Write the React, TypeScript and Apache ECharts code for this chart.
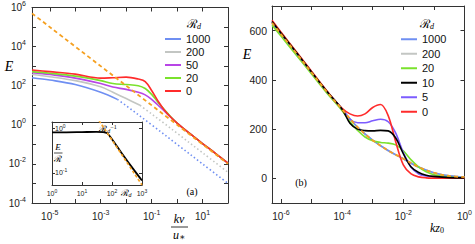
import React, { useEffect, useRef } from "react";
import * as echarts from "echarts";

// ---------- Panel (a) data: E vs k nu / u* ----------
const aK = [2e-6, 1e-5, 1e-4, 1e-3, 3e-3, 1e-2, 3e-2, 5.6e-2, 0.1, 0.18, 0.32, 0.56, 1, 3.2, 10, 32, 100];
const aRed = [630, 525, 390, 245, 257, 275, 219, 162, 57, 16, 5.6, 2.5, 1.23, 0.35, 0.11, 0.035, 0.011];
const aGreen = [525, 436, 309, 182, 129, 115, 100, 72, 36, 14, 5.9, 2.6, 1.23, 0.35, 0.11, 0.035, 0.011];
const aPurple = [468, 372, 245, 129, 85, 65, 46, 34, 20, 10, 5.0, 2.45, 1.23, 0.35, 0.11, 0.035, 0.011];
const aGrayK = [2e-6, 1e-5, 1e-4, 1e-3, 3e-3, 1e-2, 3.5e-2];
const aGray = [372, 288, 182, 88, 46, 22, 10];
const aGrayTailK = [3.5e-2, 0.1, 0.32, 1, 10, 100];
const aGrayTail = [10, 3.6, 1.15, 0.37, 0.037, 0.0037];
const aBlueK = [2e-6, 1e-5, 1e-4, 1e-3, 4.5e-3];
const aBlue = [257, 195, 115, 46, 20];
const aBlueTailK = [4.5e-3, 1e-2, 0.1, 1, 10, 100];
const aBlueTail = [20, 9.5, 1.0, 0.1, 0.01, 0.001];
const aRefK = [2e-6, 100];
const aRef = [5e5, 0.01];

// inset: E/R vs R_d
const inR = [1, 3, 10, 30, 50, 70, 100, 200, 500, 1000];
const inE = [0.8, 0.8, 0.81, 0.82, 0.81, 0.76, 0.56, 0.29, 0.125, 0.068];
const inRefR = [30, 1000];
const inRef = [1.8, 0.054];

// ---------- Panel (b) data: E vs k z0 ----------
const bK = [5.1e-7, 1e-6, 3.2e-6, 1e-5, 3.2e-5, 1e-4, 3.2e-4, 1e-3, 3.2e-3, 1e-2, 3.2e-2, 0.1, 0.32, 1];
const bRef = [632, 586, 508, 430, 351, 280, 208, 155, 113, 80, 46, 23, 10, 5];
const bBlue = [632, 586, 508, 430, 351, 280, 208, 155, 113, 80, 46, 23, 10, 5];
const bGray = [628, 583, 505, 428, 349, 279, 207, 154, 112, 79, 45, 22, 10, 5];
const bK2 = [5.1e-7, 1e-6, 3.2e-6, 1e-5, 3.2e-5, 1e-4, 1.8e-4, 3.2e-4, 5.6e-4, 1e-3, 1.8e-3, 3.2e-3, 5.6e-3, 1e-2, 1.8e-2, 3.2e-2, 5.6e-2, 0.1, 0.32, 1];
const bRed = [642, 594, 514, 435, 355, 284, 262, 253, 262, 288, 300, 255, 150, 55, 18, 6, 2, 1, 0.5, 0.5];
const bViolet = [636, 589, 510, 432, 353, 282, 240, 226, 226, 234, 240, 230, 185, 105, 45, 18, 10, 6, 2, 1];
const bBlack = [637, 590, 511, 432, 353, 281, 224, 200, 194, 193, 195, 193, 165, 100, 46, 24, 13, 8, 3, 2];
const bGreen = [622, 578, 500, 424, 346, 275, 230, 195, 168, 153, 146, 143, 136, 112, 75, 46, 27, 15, 5, 2];

const legendA = ["1000", "200", "50", "20", "0"];
const legendB = ["1000", "200", "20", "10", "5", "0"];

const C = {
  blue: "#6f8ff2",
  gray: "#c3c6c3",
  purple: "#b845e6",
  green: "#7ae22c",
  red: "#ff2b2b",
  orange: "#f5a021",
  black: "#000000",
  violet: "#7c5cff",
};

const F = "Liberation Sans, Arial, sans-serif";
const SERIF = "Liberation Serif, DejaVu Serif, serif";

const zip = (xs: number[], ys: number[]) => xs.map((x, i) => [x, ys[i]]);

// step: label every `step` decades; offset: exponent remainder to keep
const supLabel = (v: number, step: number, offset = 0) => {
  const e = Math.log10(v);
  const n = Math.round(e);
  if (Math.abs(e - n) > 1e-6) return "";
  if ((((n - offset) % step) + step) % step !== 0) return "";
  return `{b|10}{s|${n}}`;
};

const supRich = (size: number, sup: number, raise: number) => ({
  b: { fontSize: size, fontFamily: F, color: "#222" },
  s: { fontSize: sup, fontFamily: F, color: "#222", padding: [0, 0, raise, 0] },
});

const line = (
  name: string,
  data: number[][],
  color: string,
  axis: number,
  extra: any = {}
) => ({
  name,
  type: "line",
  xAxisIndex: axis,
  yAxisIndex: axis,
  data,
  symbol: "none",
  smooth: 0.35,
  clip: true,
  itemStyle: { color },
  lineStyle: { color, width: 1.6, ...(extra.lineStyle || {}) },
  z: extra.z ?? 2,
});

const axBase = (len: number) => ({
  axisLine: { show: true, onZero: false, lineStyle: { color: "#333", width: 1 } },
  axisTick: { show: true, inside: true, length: len, lineStyle: { color: "#333", width: 1 } },
  splitLine: { show: false },
  minorTick: { show: false },
});

const noLabel = { show: false };

const option: any = {
  animation: false,
  backgroundColor: "#fff",
  grid: [
    { left: 32, top: 5, width: 196, height: 198 },
    { left: 272, top: 6, width: 195, height: 197 },
    { left: 52, top: 122, width: 90, height: 63 },
  ],
  xAxis: [
    {
      gridIndex: 0, type: "log", min: 2e-6, max: 100, splitNumber: 8, position: "bottom",
      ...axBase(4),
      axisLabel: { formatter: (v: number) => supLabel(v, 2, 1), rich: supRich(10, 7, 8), margin: 6 },
    },
    { gridIndex: 0, type: "log", min: 2e-6, max: 100, splitNumber: 8, position: "top", ...axBase(4), axisLabel: noLabel },
    {
      gridIndex: 1, type: "log", min: 5.1e-7, max: 1, splitNumber: 6, position: "bottom",
      ...axBase(4),
      axisLabel: { formatter: (v: number) => supLabel(v, 2), rich: supRich(10, 7, 8), margin: 6 },
    },
    { gridIndex: 1, type: "log", min: 5.1e-7, max: 1, splitNumber: 6, position: "top", ...axBase(4), axisLabel: noLabel },
    {
      gridIndex: 2, type: "log", min: 1, max: 1000, splitNumber: 3, position: "bottom",
      ...axBase(3),
      axisLabel: { formatter: (v: number) => supLabel(v, 1), rich: supRich(7, 5, 5), margin: 3 },
    },
    { gridIndex: 2, type: "log", min: 1, max: 1000, splitNumber: 3, position: "top", ...axBase(3), axisLabel: noLabel },
  ],
  yAxis: [
    {
      gridIndex: 0, type: "log", min: 1e-4, max: 1e6, splitNumber: 10, position: "left",
      ...axBase(4),
      axisLabel: { formatter: (v: number) => supLabel(v, 2), rich: supRich(10, 7, 8), margin: 6 },
    },
    { gridIndex: 0, type: "log", min: 1e-4, max: 1e6, splitNumber: 10, position: "right", ...axBase(4), axisLabel: noLabel },
    {
      gridIndex: 1, type: "value", min: -100, max: 700, splitNumber: 4, position: "left",
      ...axBase(4),
      axisLabel: {
        formatter: (v: number) => (v === -100 || v === 700 ? "" : String(v)),
        fontSize: 10.5, fontFamily: F, color: "#222", margin: 5,
      },
    },
    { gridIndex: 1, type: "value", min: -100, max: 700, splitNumber: 4, position: "right", ...axBase(4), axisLabel: noLabel },
    {
      gridIndex: 2, type: "log", min: 0.054, max: 1.36, splitNumber: 2, position: "left",
      ...axBase(3),
      axisLabel: { inside: true, formatter: (v: number) => supLabel(v, 1), rich: supRich(7, 5, 5), margin: 3 },
    },
    { gridIndex: 2, type: "log", min: 0.054, max: 1.36, splitNumber: 2, position: "right", ...axBase(3), axisLabel: noLabel },
  ],
  legend: [
    {
      data: legendA, orient: "vertical", left: 165, top: 32.5, icon: "rect", itemWidth: 16, itemHeight: 2,
      itemGap: 0, padding: 0, selectedMode: false,
      textStyle: { fontSize: 11, lineHeight: 13, fontFamily: F, color: "#111" },
    },
    {
      data: legendB, orient: "vertical", left: 401, top: 32, icon: "rect", itemWidth: 16, itemHeight: 2,
      itemGap: 0, padding: 0, selectedMode: false,
      textStyle: { fontSize: 11, lineHeight: 14.5, fontFamily: F, color: "#111" },
    },
  ],
  series: [
    // panel (a)
    line("1000", zip(aBlueK, aBlue), C.blue, 0),
    line("1000 tail", zip(aBlueTailK, aBlueTail), C.blue, 0, { lineStyle: { type: [1.5, 2.5] } }),
    line("200", zip(aGrayK, aGray), C.gray, 0),
    line("200 tail", zip(aGrayTailK, aGrayTail), C.gray, 0, { lineStyle: { type: [1.5, 2.5] } }),
    line("50", zip(aK, aPurple), C.purple, 0),
    line("20", zip(aK, aGreen), C.green, 0),
    line("0", zip(aK, aRed), C.red, 0),
    line("ref a", zip(aRefK, aRef), C.orange, 0, { lineStyle: { type: [4, 3], width: 1.8 }, z: 3 }),
    // inset
    line("inset", zip(inR, inE), C.black, 4, { lineStyle: { width: 1.8 } }),
    line("inset ref", zip(inRefR, inRef), C.orange, 4, { lineStyle: { type: [3, 2], width: 1.6 }, z: 3 }),
    // panel (b)
    line("200", zip(bK, bGray), C.gray, 2),
    line("1000", zip(bK, bBlue), C.blue, 2),
    line("20", zip(bK2, bGreen), C.green, 2),
    line("5", zip(bK2, bViolet), C.violet, 2),
    line("0", zip(bK2, bRed), C.red, 2),
    line("10", zip(bK2, bBlack), C.black, 2),
    line("ref b", zip(bK, bRef), C.orange, 2, { lineStyle: { type: [4, 3], width: 1.8 }, z: 3 }),
  ],
  graphic: [
    { type: "text", x: 9, y: 66, style: { text: "E", font: `italic 14px ${SERIF}`, fill: "#000", textAlign: "center", textVerticalAlign: "middle" } },
    { type: "text", x: 247, y: 54, style: { text: "E", font: `italic 14px ${SERIF}`, fill: "#000", textAlign: "center", textVerticalAlign: "middle" } },
    { type: "text", x: 179, y: 219, style: { text: "kν", font: `italic 12px ${SERIF}`, fill: "#000", textAlign: "center", textVerticalAlign: "middle" } },
    { type: "line", shape: { x1: 171, y1: 227, x2: 188, y2: 227 }, style: { stroke: "#000", lineWidth: 0.8 } },
    {
      type: "text", x: 179, y: 235,
      style: {
        text: "{i|u}{s|∗}", textAlign: "center", textVerticalAlign: "middle",
        rich: { i: { font: `italic 12px ${SERIF}`, fill: "#000" }, s: { font: `9px ${SERIF}`, fill: "#000", padding: [4, 0, 0, 0] } },
      },
    },
    {
      type: "text", x: 437, y: 228,
      style: {
        text: "{i|kz}{s|0}", textAlign: "center", textVerticalAlign: "middle",
        rich: { i: { font: `italic 12px ${SERIF}`, fill: "#000" }, s: { font: `8px ${SERIF}`, fill: "#000", padding: [5, 0, 0, 0] } },
      },
    },
    { type: "text", x: 192, y: 191, style: { text: "(a)", font: `10px ${SERIF}`, fill: "#000", textAlign: "center", textVerticalAlign: "middle" } },
    { type: "text", x: 301, y: 182, style: { text: "(b)", font: `10px ${SERIF}`, fill: "#000", textAlign: "center", textVerticalAlign: "middle" } },
    {
      type: "text", x: 194, y: 24,
      style: {
        text: "{r|ℛ}{d|d}", textAlign: "center", textVerticalAlign: "middle",
        rich: { r: { font: `12px DejaVu Serif, serif`, fill: "#000" }, d: { font: `italic 8px ${SERIF}`, fill: "#000", padding: [5, 0, 0, 0] } },
      },
    },
    {
      type: "text", x: 427, y: 24,
      style: {
        text: "{r|ℛ}{d|d}", textAlign: "center", textVerticalAlign: "middle",
        rich: { r: { font: `12px DejaVu Serif, serif`, fill: "#000" }, d: { font: `italic 8px ${SERIF}`, fill: "#000", padding: [5, 0, 0, 0] } },
      },
    },
    {
      type: "text", x: 108, y: 129,
      style: {
        text: "{r|ℛ}{d|d}{s|−1}", textAlign: "center", textVerticalAlign: "middle",
        rich: {
          r: { font: `9px DejaVu Serif, serif`, fill: "#000" },
          d: { font: `italic 6px ${SERIF}`, fill: "#000", padding: [4, 0, 0, 0] },
          s: { font: `6px ${SERIF}`, fill: "#000", padding: [0, 0, 5, 0] },
        },
      },
    },
    { type: "text", x: 58, y: 147, style: { text: "E", font: `italic 9px ${SERIF}`, fill: "#000", textAlign: "center", textVerticalAlign: "middle" } },
    { type: "line", shape: { x1: 54, y1: 153, x2: 62.5, y2: 153 }, style: { stroke: "#000", lineWidth: 0.7 } },
    { type: "text", x: 58, y: 159, style: { text: "ℛ", font: `9px DejaVu Serif, serif`, fill: "#000", textAlign: "center", textVerticalAlign: "middle" } },
    {
      type: "text", x: 126, y: 193,
      style: {
        text: "{r|ℛ}{d|d}", textAlign: "center", textVerticalAlign: "middle",
        rich: { r: { font: `9px DejaVu Serif, serif`, fill: "#000" }, d: { font: `italic 6px ${SERIF}`, fill: "#000", padding: [4, 0, 0, 0] } },
      },
    },
  ],
};

export default function App() {
  const ref = useRef<HTMLDivElement>(null);
  useEffect(() => {
    if (!ref.current) return;
    const chart = echarts.init(ref.current, null, { renderer: "svg", width: 475, height: 244 });
    chart.setOption(option);
    return () => chart.dispose();
  }, []);
  return (
    <div
      ref={ref}
      style={{ position: "fixed", left: 0, top: 0, width: 475, height: 244, background: "#fff" }}
    />
  );
}
